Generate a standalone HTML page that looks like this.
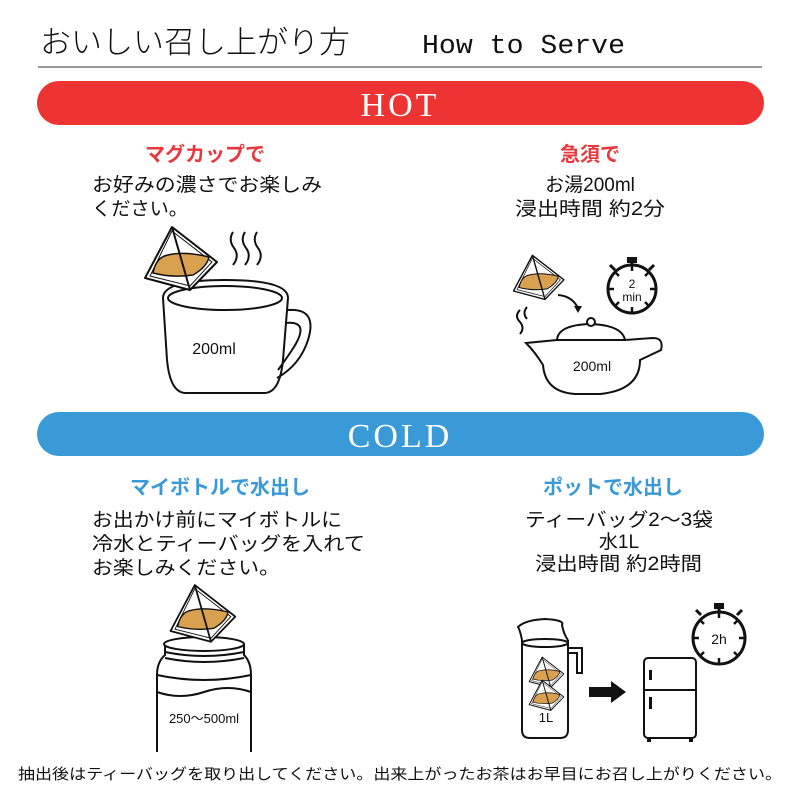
<!DOCTYPE html>
<html><head><meta charset="utf-8"><style>
html,body{margin:0;padding:0;background:#fff;}
svg{display:block;font-family:"Liberation Sans","Noto Sans CJK JP",sans-serif;}
</style></head><body>
<svg width="800" height="800" viewBox="0 0 800 800" xmlns="http://www.w3.org/2000/svg">
<defs>
<g id="bag">
 <polygon points="-8,-31 37,4 10,32 -35,20" fill="#fff" stroke="#111" stroke-width="2" stroke-linejoin="round"/>
 <polygon points="-8,-27 32,4 10,28 -30,18" fill="none" stroke="#111" stroke-width="1"/>
 <path d="M-27,15 Q-24,-1 -12,-3 Q5,-7 29,-1 Q27,9 13,17 Q-8,20 -27,15 Z" fill="#d9a050" stroke="#111" stroke-width="1.5"/>
 <line x1="-8" y1="-31" x2="10" y2="32" stroke="#111" stroke-width="2"/>
</g>
</defs>

<!-- title -->
<text x="40" y="53" font-size="31" fill="#111" style="font-family:'Noto Sans CJK JP',sans-serif;font-weight:300">おいしい召し上がり方</text>
<text x="422" y="53" font-size="27" fill="#111" style="font-family:'Liberation Mono',monospace" textLength="203" lengthAdjust="spacingAndGlyphs">How to Serve</text>
<rect x="38" y="66" width="724" height="2" fill="#999"/>

<!-- HOT bar -->
<rect x="37" y="81" width="727" height="44" rx="22" fill="#ee3333"/>
<text x="400" y="116" font-size="34" fill="#fff" text-anchor="middle" style="font-family:'Liberation Serif',serif" letter-spacing="3">HOT</text>

<!-- COLD bar -->
<rect x="37" y="412" width="727" height="44" rx="22" fill="#3a9ad8"/>
<text x="400" y="447" font-size="34" fill="#fff" text-anchor="middle" style="font-family:'Liberation Serif',serif" letter-spacing="3">COLD</text>

<!-- HOT headings -->
<text x="205" y="161" font-size="20" font-weight="bold" fill="#e8383d" text-anchor="middle">マグカップで</text>
<text x="590" y="161" font-size="20" font-weight="bold" fill="#e8383d" text-anchor="middle">急須で</text>
<g font-size="19" fill="#111">
<text x="92" y="191" textLength="230" lengthAdjust="spacingAndGlyphs">お好みの濃さでお楽しみ</text>
<text x="92" y="215" textLength="96" lengthAdjust="spacingAndGlyphs">ください。</text>
<text x="590" y="191" text-anchor="middle">お湯200ml</text>
<text x="515" y="215" textLength="150" lengthAdjust="spacingAndGlyphs">浸出時間 約2分</text>
</g>

<!-- COLD headings -->
<text x="220" y="494" font-size="20" font-weight="bold" fill="#3a9ad8" text-anchor="middle">マイボトルで水出し</text>
<text x="613" y="494" font-size="20" font-weight="bold" fill="#3a9ad8" text-anchor="middle">ポットで水出し</text>
<g font-size="19" fill="#111">
<text x="92" y="526" textLength="250" lengthAdjust="spacingAndGlyphs">お出かけ前にマイボトルに</text>
<text x="92" y="550" textLength="273" lengthAdjust="spacingAndGlyphs">冷水とティーバッグを入れて</text>
<text x="92" y="574" textLength="188" lengthAdjust="spacingAndGlyphs">お楽しみください。</text>
<text x="525" y="526" textLength="188" lengthAdjust="spacingAndGlyphs">ティーバッグ2〜3袋</text>
<text x="619" y="548" text-anchor="middle">水1L</text>
<text x="535" y="570" textLength="167" lengthAdjust="spacingAndGlyphs">浸出時間 約2時間</text>
</g>

<!-- footer -->
<text x="18" y="779" font-size="15" fill="#111" textLength="764" lengthAdjust="spacingAndGlyphs">抽出後はティーバッグを取り出してください。出来上がったお茶はお早目にお召し上がりください。</text>

<!-- Mug -->
<g fill="none" stroke="#111" stroke-width="2">
 <path d="M163,298 Q163,280 225,280 Q288,280 288,298 L283,360 Q280,392 265,393 L185,393 Q170,392 167,360 Z" fill="#fff"/>
 <ellipse cx="225" cy="298" rx="57" ry="12"/>
 <path d="M285,323 Q312,320 292,350 Q284,362 278,370"/>
 <path d="M288,310 Q318,308 308,340 Q300,365 277,378"/>
 <path d="M233,232 Q228,240 234,248 Q240,256 233,265"/>
 <path d="M245,232 Q240,240 246,248 Q252,256 245,265"/>
 <path d="M257,232 Q252,240 258,248 Q264,256 257,265"/>
</g>
<text x="214" y="354" font-size="16" fill="#111" text-anchor="middle">200ml</text>
<use href="#bag" transform="translate(180,258)"/>

<!-- Teapot -->
<g fill="none" stroke="#111" stroke-width="2">
 <path d="M557,340 Q558,325 590,324 Q622,325 625,340"/>
 <circle cx="591" cy="322" r="4" fill="#fff"/>
 <path d="M526,343 L557,340 L625,340 L653,338 Q664,338 661,350 L640,360 Q640,390 600,394 L575,394 Q545,392 543,365 Q535,352 526,343 Z" fill="#fff"/>
 <line x1="557" y1="340" x2="625" y2="340"/>
 <path d="M520,310 Q514,316 520,322 Q525,328 520,334"/>
 <path d="M527,307 Q522,313 527,319"/>
 <path d="M558,295 Q572,296 578,308"/>
</g>
<polygon points="574,306 582,306 578,313" fill="#111"/>
<text x="592" y="371" font-size="14" fill="#111" text-anchor="middle">200ml</text>
<use href="#bag" transform="translate(538,277) scale(0.7)"/>
<!-- stopwatch 1 -->
<g stroke="#111" fill="none">
 <circle cx="632" cy="289" r="24" stroke-width="3"/>
 <rect x="627" y="257" width="10" height="6" fill="#111" stroke="none"/>
 <line x1="632" y1="262" x2="632" y2="266" stroke-width="3"/>
 <line x1="610" y1="265" x2="615" y2="270" stroke-width="3"/>
 <line x1="654" y1="265" x2="649" y2="270" stroke-width="3"/>
 <g stroke-width="2.5">
  <line x1="632" y1="265" x2="632" y2="271"/><line x1="632" y1="307" x2="632" y2="313"/>
  <line x1="608" y1="289" x2="614" y2="289"/><line x1="650" y1="289" x2="656" y2="289"/>
  <line x1="615" y1="272" x2="619" y2="276"/><line x1="649" y1="272" x2="645" y2="276"/>
  <line x1="615" y1="306" x2="619" y2="302"/><line x1="649" y1="306" x2="645" y2="302"/>
 </g>
</g>
<text x="632" y="288" font-size="12" fill="#111" text-anchor="middle">2</text>
<text x="632" y="301" font-size="12" fill="#111" text-anchor="middle">min</text>

<!-- Bottle -->
<g fill="none" stroke="#111" stroke-width="2">
 <path d="M157,752 L157,675 Q157,662 165,655 L165,645 Q165,638 200,638 Q244,638 244,645 L244,655 Q251,662 251,675 L251,752"/>
 <ellipse cx="204" cy="644" rx="40" ry="7" fill="#fff"/>
 <path d="M165,652 Q204,660 244,652"/>
 <path d="M165,658 Q204,666 244,658"/>
 <path d="M157,675 Q204,685 251,675"/>
 <path d="M157,692 Q180,700 204,692 Q228,684 251,692"/>
</g>
<text x="204" y="723" font-size="13" fill="#111" text-anchor="middle">250〜500ml</text>
<use href="#bag" transform="translate(202,613) scale(0.9)"/>

<!-- Jug -->
<g fill="none" stroke="#111" stroke-width="2">
 <path d="M522,640 L522,730 Q522,738 530,738 L560,738 Q568,738 568,730 L568,640"/>
 <path d="M522,640 Q520,630 518,627 Q525,620 545,619 Q565,620 562,625 Q564,635 568,640"/>
 <ellipse cx="545" cy="643" rx="23" ry="4"/>
 <path d="M568,648 L582,648 L582,673 L577,673 L577,653 L568,653"/>
</g>
<use href="#bag" transform="translate(546,672) scale(0.48)"/>
<use href="#bag" transform="translate(546,695) scale(0.48)"/>
<text x="546" y="722" font-size="13" fill="#111" text-anchor="middle">1L</text>
<!-- arrow -->
<polygon points="589,687 611,687 611,681 626,692 611,703 611,697 589,697" fill="#111"/>
<!-- Fridge -->
<g fill="none" stroke="#111" stroke-width="2">
 <rect x="644" y="658" width="52" height="80" rx="4" fill="#fff"/>
 <line x1="644" y1="690" x2="696" y2="690"/>
</g>
<rect x="649" y="670" width="3" height="10" fill="#111"/>
<rect x="649" y="697" width="3" height="12" fill="#111"/>
<rect x="647" y="738" width="4" height="4" fill="#111"/>
<rect x="689" y="738" width="4" height="4" fill="#111"/>
<!-- stopwatch 2 -->
<g stroke="#111" fill="none">
 <circle cx="719" cy="638" r="26" stroke-width="3"/>
 <rect x="714" y="603" width="10" height="6" fill="#111" stroke="none"/>
 <line x1="719" y1="608" x2="719" y2="613" stroke-width="3"/>
 <line x1="696" y1="610" x2="701" y2="615" stroke-width="3"/>
 <line x1="742" y1="610" x2="737" y2="615" stroke-width="3"/>
 <g stroke-width="2.5">
  <line x1="719" y1="612" x2="719" y2="618"/><line x1="719" y1="658" x2="719" y2="664"/>
  <line x1="693" y1="638" x2="699" y2="638"/><line x1="739" y1="638" x2="745" y2="638"/>
  <line x1="700" y1="620" x2="704" y2="624"/><line x1="738" y1="620" x2="734" y2="624"/>
  <line x1="700" y1="656" x2="704" y2="652"/><line x1="738" y1="656" x2="734" y2="652"/>
 </g>
</g>
<text x="719" y="644" font-size="14" fill="#111" text-anchor="middle">2h</text>
</svg>
</body></html>
